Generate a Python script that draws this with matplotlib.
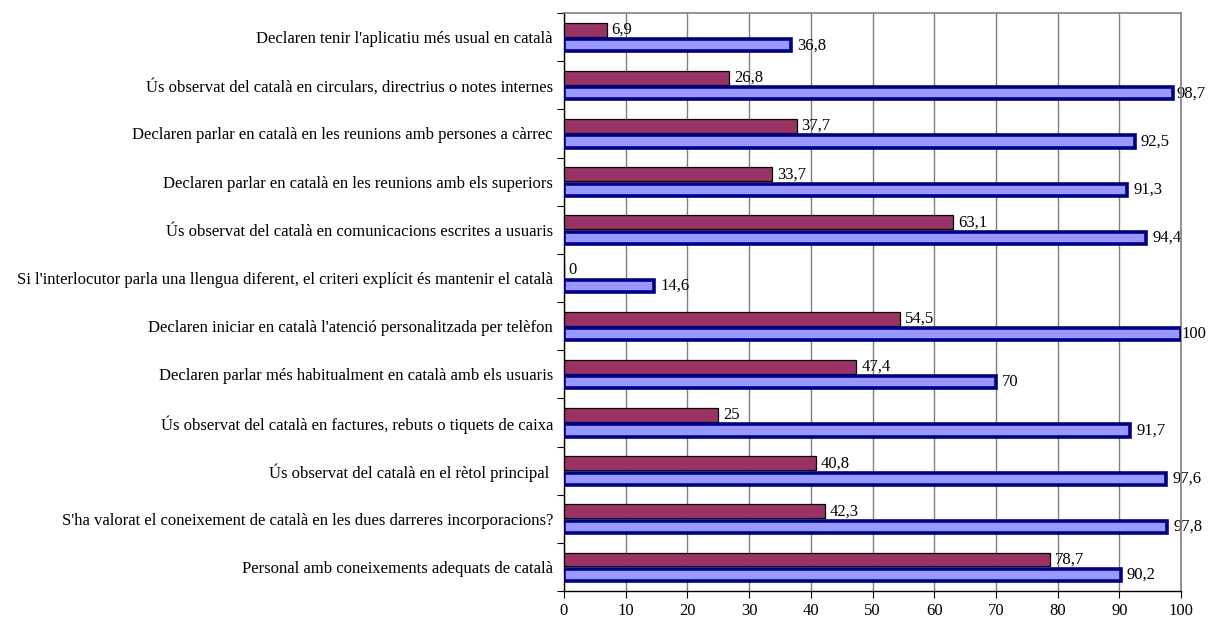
import matplotlib
matplotlib.use('Agg')
import matplotlib.pyplot as plt
import numpy as np

# Categories listed top to bottom
categories = [
    "Declaren tenir l'aplicatiu més usual en català",
    "Ús observat del català en circulars, directrius o notes internes",
    "Declaren parlar en català en les reunions amb persones a càrrec",
    "Declaren parlar en català en les reunions amb els superiors",
    "Ús observat del català en comunicacions escrites a usuaris",
    "Si l'interlocutor parla una llengua diferent, el criteri explícit és mantenir el català",
    "Declaren iniciar en català l'atenció personalitzada per telèfon",
    "Declaren parlar més habitualment en català amb els usuaris",
    "Ús observat del català en factures, rebuts o tiquets de caixa",
    "Ús observat del català en el rètol principal ",
    "S'ha valorat el coneixement de català en les dues darreres incorporacions?",
    "Personal amb coneixements adequats de català",
]
red_values = [6.9, 26.8, 37.7, 33.7, 63.1, 0, 54.5, 47.4, 25, 40.8, 42.3, 78.7]
blue_values = [36.8, 98.7, 92.5, 91.3, 94.4, 14.6, 100, 70, 91.7, 97.6, 97.8, 90.2]
x_ticks = [0, 10, 20, 30, 40, 50, 60, 70, 80, 90, 100]

plt.rcParams['font.family'] = ['Liberation Serif', 'DejaVu Serif']
FS = 12

fig = plt.figure(figsize=(12.08, 6.21), dpi=100)
ax = fig.add_axes([564 / 1208, 1 - 591 / 621, 617 / 1208, 578 / 621])

n = len(categories)
y = np.arange(n)

def fmt(v):
    return ('%g' % v).replace('.', ',')

ax.barh(y - 0.154, red_values, height=0.29, color='#993366',
        edgecolor='black', linewidth=0.9, zorder=3)
ax.barh(y + 0.168, blue_values, height=0.25, color='#9999FF',
        edgecolor='#000080', linewidth=2.6, zorder=3)

ax.set_xlim(0, 100)
ax.set_ylim(n - 0.5, -0.5)

fig.canvas.draw()
renderer = fig.canvas.get_renderer()
fig_w = fig.bbox.width
px_to_pt = 72 / fig.dpi

for i in range(n):
    ax.annotate(fmt(red_values[i]), (red_values[i], y[i] - 0.154),
                xytext=(3.5, 0), textcoords='offset points',
                ha='left', va='center', fontsize=FS, zorder=2)
    t = ax.annotate(fmt(blue_values[i]), (blue_values[i], y[i] + 0.168),
                    xytext=(4.5, 0), textcoords='offset points',
                    ha='left', va='center', fontsize=FS, zorder=2)
    # a label running past the figure edge is pulled back inside it
    w = t.get_window_extent(renderer).width
    xv = ax.transData.transform((blue_values[i], 0))[0]
    if xv + 4.5 / px_to_pt + w > fig_w - 2:
        t.set_ha('right')
        t.xyann = ((fig_w - 2 - xv) * px_to_pt, 0)

ax.set_xticks(x_ticks)
ax.set_xticklabels([str(t) for t in x_ticks], fontsize=FS)
ax.tick_params(axis='x', direction='out', length=5, width=0.8, pad=3.5)

ax.set_yticks(y)
ax.set_yticklabels(categories, fontsize=FS)
ax.tick_params(axis='y', which='major', length=0, pad=8)
ax.set_yticks(np.arange(n + 1) - 0.5, minor=True)
ax.tick_params(axis='y', which='minor', direction='out', length=5, width=0.8)

ax.grid(axis='x', color='#808080', linewidth=1, zorder=1)
ax.set_axisbelow(True)

for side in ['top', 'right']:
    ax.spines[side].set_color('#808080')
    ax.spines[side].set_linewidth(1.2)
for side in ['left', 'bottom']:
    ax.spines[side].set_color('black')
    ax.spines[side].set_linewidth(1.0)

fig.savefig('out.png', dpi=100)
